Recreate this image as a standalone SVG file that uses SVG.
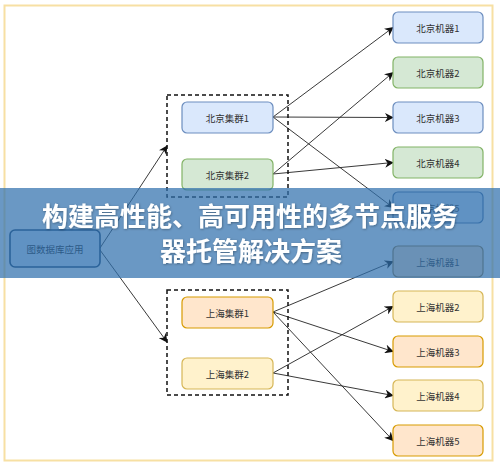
<svg xmlns="http://www.w3.org/2000/svg" width="500" height="467" viewBox="0 0 500 467">
<style>
.lbl{font-family:"Noto Sans CJK SC","Noto Sans",sans-serif;font-size:9.5px;fill:#333;text-anchor:middle;dominant-baseline:central}
.box{stroke-width:1.2}
.blue{fill:#dae8fc;stroke:#6c8ebf}
.green{fill:#d5e8d4;stroke:#82b366}
.peach{fill:#ffe6cc;stroke:#d79b00}
.yellow{fill:#fff2cc;stroke:#d6b656}
.grp{fill:none;stroke:#111;stroke-width:1.5;stroke-dasharray:4,3}
.edge{fill:none;stroke:#222;stroke-width:0.9;marker-end:url(#arr)}
.title{font-family:"Noto Sans CJK SC","Noto Sans",sans-serif;font-size:26px;font-weight:bold;fill:#fff;text-anchor:middle}
</style>
<defs>
<marker id="arr" viewBox="0 0 10 10" refX="9" refY="5" markerWidth="9" markerHeight="9" markerUnits="userSpaceOnUse" orient="auto">
<path d="M0,0 L10,5 L0,10 L3,5 z" fill="#111"/>
</marker>
<filter id="sh" x="-10%" y="-10%" width="120%" height="130%">
<feDropShadow dx="0.6" dy="0.8" stdDeviation="0.8" flood-color="#000" flood-opacity="0.35"/>
</filter>
</defs>
<rect x="0" y="0" width="500" height="467" fill="#fff"/>
<rect x="4.5" y="5.5" width="488" height="455" fill="#fff" stroke="#f7e0a3" stroke-width="2"/>

<g id="connectors">
<path class="edge" d="M100,248 L167,146"/>
<path class="edge" d="M100,250 L167,342"/>
<path class="edge" d="M273,117 L393,27.5"/>
<path class="edge" d="M273,117 L393,117.5"/>
<path class="edge" d="M273,117 L393,207.5"/>
<path class="edge" d="M273,174 L393,72.5"/>
<path class="edge" d="M273,174 L393,162.5"/>
<path class="edge" d="M273,312 L393,261.5"/>
<path class="edge" d="M273,312 L393,351.5"/>
<path class="edge" d="M273,312 L393,440.5"/>
<path class="edge" d="M273,373 L393,306.5"/>
<path class="edge" d="M273,373 L393,395.5"/>
</g>

<g id="app"><rect x="10" y="230" width="90" height="37" rx="5" fill="#dae8fc" stroke="#1b3f66" stroke-width="1.6"/><text class="lbl" x="55" y="249" style="fill:#222">图数据库应用</text></g>

<g id="bj-group"><rect class="grp" x="167" y="95" width="121" height="102"/></g>
<g id="bj-cluster1"><rect class="box blue" x="182" y="102" width="91" height="31" rx="5"/><text class="lbl" x="227.5" y="117.5">北京集群1</text></g>
<g id="bj-cluster2"><rect class="box green" x="182" y="159" width="91" height="31" rx="5"/><text class="lbl" x="227.5" y="174.5">北京集群2</text></g>

<g id="sh-group"><rect class="grp" x="167" y="290" width="121" height="105"/></g>
<g id="sh-cluster1"><rect class="box peach" x="182" y="297" width="91" height="31" rx="5"/><text class="lbl" x="227.5" y="312.5">上海集群1</text></g>
<g id="sh-cluster2"><rect class="box yellow" x="182" y="358" width="91" height="31" rx="5"/><text class="lbl" x="227.5" y="373.5">上海集群2</text></g>

<g id="bj-m1"><rect class="box blue" x="393" y="12" width="90" height="31" rx="5"/><text class="lbl" x="438" y="27.5">北京机器1</text></g>
<g id="bj-m2"><rect class="box green" x="393" y="57" width="90" height="31" rx="5"/><text class="lbl" x="438" y="72.5">北京机器2</text></g>
<g id="bj-m3"><rect class="box blue" x="393" y="102" width="90" height="31" rx="5"/><text class="lbl" x="438" y="117.5">北京机器3</text></g>
<g id="bj-m4"><rect class="box green" x="393" y="147" width="90" height="31" rx="5"/><text class="lbl" x="438" y="162.5">北京机器4</text></g>
<g id="bj-m5"><rect class="box blue" x="393" y="192" width="90" height="31" rx="5" style="stroke:#4a70a0"/><text class="lbl" x="438" y="207.5">北京机器5</text></g>

<g id="sh-m1"><rect class="box peach" x="393" y="246" width="90" height="31" rx="5" style="stroke:#9a7a40"/><text class="lbl" x="438" y="261.5">上海机器1</text></g>
<g id="sh-m2"><rect class="box yellow" x="393" y="291" width="90" height="31" rx="5"/><text class="lbl" x="438" y="306.5">上海机器2</text></g>
<g id="sh-m3"><rect class="box peach" x="393" y="336" width="90" height="31" rx="5"/><text class="lbl" x="438" y="351.5">上海机器3</text></g>
<g id="sh-m4"><rect class="box yellow" x="393" y="380" width="90" height="31" rx="5"/><text class="lbl" x="438" y="395.5">上海机器4</text></g>
<g id="sh-m5"><rect class="box peach" x="393" y="425" width="90" height="31" rx="5"/><text class="lbl" x="438" y="440.5">上海机器5</text></g>

<g id="banner">
<rect x="0" y="188" width="500" height="90" fill="#3070ad" fill-opacity="0.72"/>
<text class="title" x="250" y="226" filter="url(#sh)">构建高性能、高可用性的多节点服务</text>
<text class="title" x="251" y="261" filter="url(#sh)">器托管解决方案</text>
</g>
</svg>
